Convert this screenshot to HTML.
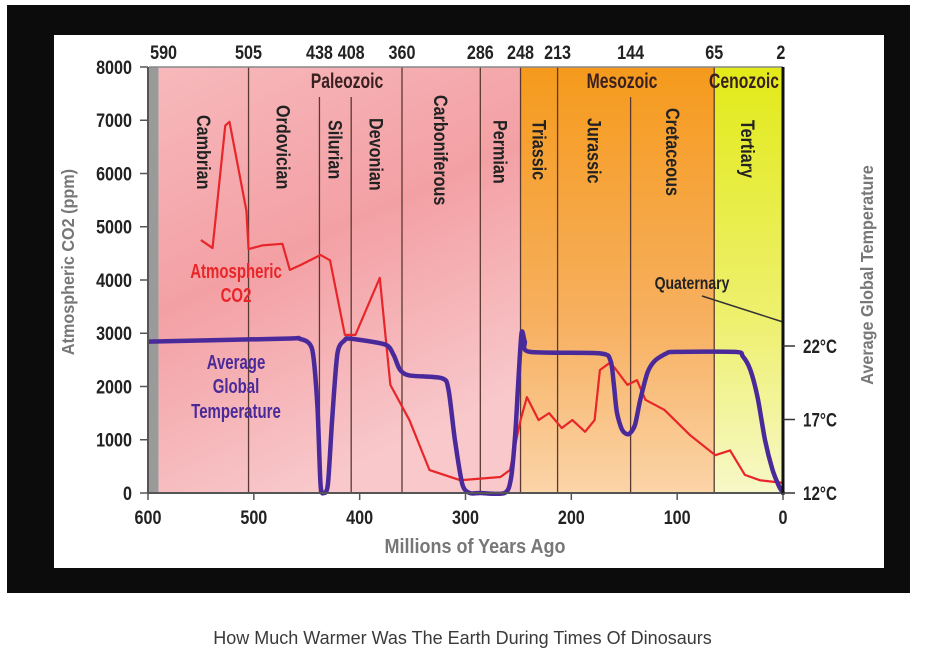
<!DOCTYPE html>
<html><head><meta charset="utf-8"><style>
body{margin:0;width:925px;height:663px;background:#fff;overflow:hidden;font-family:"Liberation Sans",sans-serif}
#frame{position:absolute;left:7px;top:5px;width:903px;height:588px;background:#0c0c0c}
#panel{position:absolute;left:54px;top:35px;width:830px;height:533px;background:#fff}
#cap{position:absolute;left:0;width:925px;top:628px;text-align:center;font-size:18px;color:#3a3a3a}
svg text{font-family:"Liberation Sans",sans-serif;font-weight:bold}
</style></head><body>
<div id="frame"></div>
<div id="panel"></div>
<svg id="chart" width="925" height="663" style="position:absolute;left:0;top:0">
<defs>
<linearGradient id="gP" x1="0" y1="0" x2="0.4" y2="1"><stop offset="0" stop-color="#f7b9bc"/><stop offset="0.5" stop-color="#f3a0a4"/><stop offset="1" stop-color="#f8c8cb"/></linearGradient>
<linearGradient id="gM" x1="0" y1="0" x2="0" y2="1"><stop offset="0" stop-color="#f59a1c"/><stop offset="0.6" stop-color="#f7b060"/><stop offset="1" stop-color="#fbd4a8"/></linearGradient>
<linearGradient id="gC" x1="0" y1="0" x2="0" y2="1"><stop offset="0" stop-color="#e2ea18"/><stop offset="0.6" stop-color="#eef070"/><stop offset="1" stop-color="#f7f8c8"/></linearGradient>
</defs>
<g id="g"></g>
</svg>
<div id="cap">How Much Warmer Was The Earth During Times Of Dinosaurs</div>
<script>
const co2Ages=[550,539,527,523,507,505,492,473,466,456,437,428,414,404,381,371,353,334,305,267,258,248,242,231,221,209,199,187,178,173,164,159,147,138,130,112,88,64,50,36,22,0];
const co2Vals=[4750,4600,6900,6970,5300,4580,4650,4680,4190,4280,4470,4370,2970,2970,4040,2030,1370,430,240,300,430,1370,1800,1370,1500,1220,1370,1150,1370,2310,2440,2350,2030,2120,1750,1560,1090,710,800,340,240,190];
const tempAges=[600,470,457,445,440,437,434,430,426,421,414,409,376,368,362,353,322,316,310,303,296,286,263,257,253,250,247,244,239,173,163,160,157,152,146,140,135,128,121,110,102,45,38,31,24,17,10,4,0];
const tempVals=[22.3,22.5,22.5,21.8,18,12.6,12,12.6,17,21.5,22.4,22.5,22.1,21.4,20.4,20,19.8,19,15.6,12.6,12,12,12,13,16,19.7,22.9,22.3,21.6,21.5,21,19.5,17.5,16.3,16,16.6,18.3,20.2,21,21.5,21.6,21.6,21.3,20.4,18.5,15.6,13.6,12.5,12];
const xTicks=[600,500,400,300,200,100,0];
const yTicks=[0,1000,2000,3000,4000,5000,6000,7000,8000];
const tTicks=[12,17,22];
const boundaries=[590,505,438,408,360,286,248,213,144,65,2];
const periods=[["Cambrian",547,115],["Ordovician",472,105],["Silurian",423,120],["Devonian",384,118],["Carboniferous",323,95],["Permian",267,120],["Triassic",230,120],["Jurassic",178,118],["Cretaceous",104,108],["Tertiary",33,120]];
const X=a=>783-a*635/600, Y=v=>493-v*426/8000, T=t=>493-(t-12)*14.7;
const g=document.getElementById('g');const NS='http://www.w3.org/2000/svg';
function el(t,a,txt){const e=document.createElementNS(NS,t);for(const k in a)e.setAttribute(k,a[k]);if(txt!=null)e.textContent=txt;g.appendChild(e);return e;}
function smooth(p){let d='M'+p[0][0]+','+p[0][1];for(let i=0;i<p.length-1;i++){const p0=p[Math.max(0,i-1)],p1=p[i],p2=p[i+1],p3=p[Math.min(p.length-1,i+2)];const k=1/6*0.8;
d+=' C'+(p1[0]+(p2[0]-p0[0])*k)+','+(p1[1]+(p2[1]-p0[1])*k)+' '+(p2[0]-(p3[0]-p1[0])*k)+','+(p2[1]-(p3[1]-p1[1])*k)+' '+p2[0]+','+p2[1];}return d;}
let e;
e=el('rect',{x:149,y:67,width:X(590)-149,height:426,fill:'#9a9a9a'});

e=el('rect',{x:X(590),y:67,width:X(248)-X(590),height:426,fill:'url(#gP)'});

e=el('rect',{x:X(248),y:67,width:X(65)-X(248),height:426,fill:'url(#gM)'});

e=el('rect',{x:X(65),y:67,width:783-X(65),height:426,fill:'url(#gC)'});

boundaries.forEach(b=>{
 if(b!==590&&b!==2){const top=(b===438||b===408||b===144)?97:67;
  e=el('line',{x1:X(b),y1:top,x2:X(b),y2:493,stroke:'#5a3a30','stroke-width':1.3});
  }
 const bx=X(b)+(b===590?5:0);
 e=el('text',{x:bx,y:59,'text-anchor':'middle','font-size':19,fill:'#222',transform:`translate(${bx},59) scale(0.85,1) translate(${-bx},-59)`},String(b));
 
});
e=el('line',{x1:149,y1:67,x2:783,y2:67,stroke:'#888','stroke-width':1.5});

[["Paleozoic",347],["Mesozoic",622],["Cenozoic",744]].forEach(([n,x])=>{
 e=el('text',{x:x,y:88,'text-anchor':'middle','font-size':21,fill:'#3a2020',transform:`translate(${x},88) scale(0.75,1) translate(${-x},-88)`},n);
 });
periods.forEach(([n,a,y])=>{const x=X(a);
 e=el('text',{x:0,y:0,'font-size':19,fill:'#222',transform:`translate(${x-7},${y}) rotate(90) scale(0.85,1)`},n);
 });
e=el('text',{x:692,y:289,'text-anchor':'middle','font-size':18,fill:'#222',transform:'translate(692,289) scale(0.78,1) translate(-692,-289)'},'Quaternary');

e=el('line',{x1:702,y1:296,x2:783,y2:322,stroke:'#333','stroke-width':1.5});

e=el('polyline',{points:co2Ages.map((a,i)=>X(a)+','+Y(co2Vals[i])).join(' '),fill:'none',stroke:'#e8262a','stroke-width':2.2,'stroke-linejoin':'round'});

e=el('path',{d:smooth(tempAges.map((a,i)=>[X(a),T(tempVals[i])])),fill:'none',stroke:'#4a2a9a','stroke-width':4.5,'stroke-linejoin':'round'});

e=el('line',{x1:148,y1:493,x2:783,y2:493,stroke:'#555','stroke-width':2});

e=el('line',{x1:148,y1:67,x2:148,y2:493,stroke:'#555','stroke-width':2});

e=el('line',{x1:783,y1:67,x2:783,y2:495,stroke:'#111','stroke-width':3});

xTicks.forEach(t=>{e=el('line',{x1:X(t),y1:493,x2:X(t),y2:500,stroke:'#555','stroke-width':1.5});
 
 e=el('text',{x:X(t),y:524,'text-anchor':'middle','font-size':19,fill:'#222',transform:`translate(${X(t)},524) scale(0.85,1) translate(${-X(t)},-524)`},String(t));
 });
yTicks.forEach(t=>{e=el('line',{x1:140,y1:Y(t),x2:148,y2:Y(t),stroke:'#555','stroke-width':1.5});
 
 e=el('text',{x:132,y:Y(t)+7,'text-anchor':'end','font-size':19,fill:'#222',transform:`translate(132,${Y(t)}) scale(0.85,1) translate(-132,${-Y(t)})`},String(t));
 });
tTicks.forEach(t=>{e=el('line',{x1:783,y1:T(t),x2:795,y2:T(t),stroke:'#333','stroke-width':1.5});
 
 e=el('text',{x:803,y:T(t)+7,'font-size':19,fill:'#222',transform:`translate(803,${T(t)}) scale(0.8,1) translate(-803,${-T(t)})`},t+'°C');
 });
e=el('text',{x:475,y:553,'text-anchor':'middle','font-size':20,fill:'#777',transform:'translate(475,553) scale(0.9,1) translate(-475,-553)'},'Millions of Years Ago');

e=el('text',{x:0,y:0,'text-anchor':'middle','font-size':18,fill:'#777',transform:'translate(74,262) rotate(-90) scale(0.9,1)'},'Atmospheric CO2 (ppm)');

e=el('text',{x:0,y:0,'text-anchor':'middle','font-size':18,fill:'#777',transform:'translate(873,275) rotate(-90) scale(0.9,1)'},'Average Global Temperature');

[["Atmospheric",236,278],["CO2",236,302]].forEach(([s,x,y])=>{e=el('text',{x:x,y:y,'text-anchor':'middle','font-size':20,fill:'#e8262a',transform:`translate(${x},${y}) scale(0.75,1) translate(${-x},${-y})`},s);
 });
[["Average",236,369],["Global",236,393],["Temperature",236,418]].forEach(([s,x,y])=>{e=el('text',{x:x,y:y,'text-anchor':'middle','font-size':20,fill:'#4a2a9a',transform:`translate(${x},${y}) scale(0.75,1) translate(${-x},${-y})`},s);
 });
</script>
</body></html>
